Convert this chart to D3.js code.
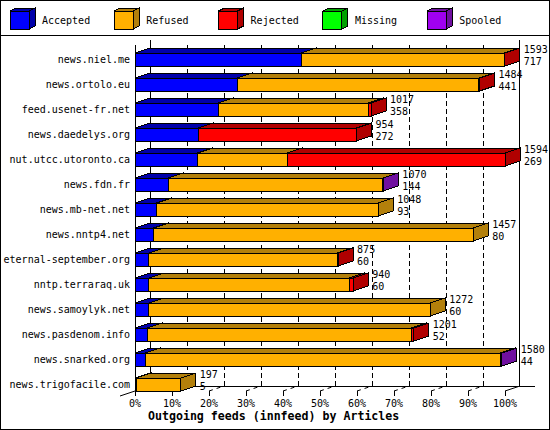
<!DOCTYPE html>
<html>
<head>
<meta charset="utf-8">
<script src="https://cdn.jsdelivr.net/npm/d3@7"></script>
<style>
  body { margin: 0; background: #fff; }
  text { font-family: "DejaVu Sans Mono", monospace; font-size: 10px; fill: #000; }
  .title { font-weight: bold; font-size: 11.6px; }
</style>
</head>
<body>
<div id="chart"></div>
<script>
const feeds = ["news.niel.me", "news.ortolo.eu", "feed.usenet-fr.net", "news.daedelys.org",
  "nut.utcc.utoronto.ca", "news.fdn.fr", "news.mb-net.net", "news.nntp4.net",
  "eternal-september.org", "nntp.terraraq.uk", "news.samoylyk.net", "news.pasdenom.info",
  "news.snarked.org", "news.trigofacile.com"];

const accepted = [717, 441, 358, 272, 269, 144, 93, 80, 60, 60, 60, 52, 44, 5];
const refused  = [874, 1040, 647, 0, 387, 923, 955, 1377, 812, 863, 1212, 1139, 1531, 192];
const rejected = [2, 3, 12, 682, 938, 0, 0, 0, 3, 17, 0, 10, 0, 0];
const missing  = [0, 0, 0, 0, 0, 0, 0, 0, 0, 0, 0, 0, 0, 0];
const spooled  = [0, 0, 0, 0, 0, 3, 0, 0, 0, 0, 0, 0, 5, 0];

const seriesNames = ["Accepted", "Refused", "Rejected", "Missing", "Spooled"];
const percentTicks = [0, 10, 20, 30, 40, 50, 60, 70, 80, 90, 100];

const colors = {
  Accepted: ["#0000ff", "#0000aa"],
  Refused:  ["#ffb000", "#b3800b"],
  Rejected: ["#ff0000", "#b00000"],
  Missing:  ["#00ff00", "#00a000"],
  Spooled:  ["#a000f0", "#7010a0"]
};

const svgWidth = 550;
const svgHeight = 430;
const depthX = 15;
const depthY = 5;
const barHeight = 13;

const svg = d3.select("#chart")
  .append("svg")
  .attr("width", svgWidth)
  .attr("height", svgHeight)
  .attr("shape-rendering", "crispEdges");

// frame and legend separator
svg.append("rect")
  .attr("x", 0.5).attr("y", 0.5)
  .attr("width", svgWidth - 1).attr("height", svgHeight - 1)
  .attr("fill", "#fff").attr("stroke", "#000");
svg.append("line")
  .attr("x1", 0).attr("x2", svgWidth)
  .attr("y1", 35.5).attr("y2", 35.5)
  .attr("stroke", "#000");

// legend
const legend = svg.append("g");
seriesNames.forEach(function(name, i) {
  const lx = 10 + i * 104.3;
  const g = legend.append("g").attr("transform", `translate(${lx}, 0)`);
  const w = 19, h = 18, top = 11, dx = 6, dy = 3;
  g.append("polygon")
    .attr("points", `0,${top} ${dx},${top - dy} ${w + dx},${top - dy} ${w},${top}`)
    .attr("fill", colors[name][1]).attr("stroke", "#000");
  g.append("polygon")
    .attr("points", `${w},${top} ${w + dx},${top - dy} ${w + dx},${top + h - dy} ${w},${top + h}`)
    .attr("fill", colors[name][1]).attr("stroke", "#000");
  g.append("rect")
    .attr("x", 0).attr("y", top).attr("width", w).attr("height", h)
    .attr("fill", colors[name][0]).attr("stroke", "#000");
  g.append("text")
    .attr("x", 32).attr("y", 24)
    .text(name);
});

const rows = feeds.map(function(f, i) {
  return {
    feed: f,
    values: [accepted[i], refused[i], rejected[i], missing[i], spooled[i]],
    total: accepted[i] + refused[i] + rejected[i] + missing[i] + spooled[i],
    accepted: accepted[i]
  };
});
const maxTotal = d3.max(rows, d => d.total);

const x = d3.scaleLinear().domain([0, 100]).range([135, 505]);
const y = d3.scaleBand().domain(feeds).range([45, 395]);
const pct = v => x(v / maxTotal * 100);

const floorY = 391;

// back walls and gridlines
const grid = svg.append("g").attr("stroke", "#000");
grid.append("line")
  .attr("x1", x(0) + depthX + 0.5).attr("x2", x(0) + depthX + 0.5)
  .attr("y1", 40).attr("y2", floorY - depthY);
grid.append("line")
  .attr("x1", x(100) + depthX - 0.5).attr("x2", x(100) + depthX - 0.5)
  .attr("y1", 40).attr("y2", floorY - depthY);
grid.selectAll(".gridline")
  .data(percentTicks.slice(1, -1))
  .enter()
  .append("line")
  .attr("class", "gridline")
  .attr("x1", d => Math.round(x(d) + depthX) + 0.5)
  .attr("x2", d => Math.round(x(d) + depthX) + 0.5)
  .attr("y1", 45).attr("y2", floorY - depthY)
  .attr("stroke-dasharray", "5,3");

// floor
grid.append("line")
  .attr("x1", x(0) + depthX).attr("x2", x(100) + 2 * depthX)
  .attr("y1", floorY - depthY + 0.5).attr("y2", floorY - depthY + 0.5);
grid.append("line")
  .attr("x1", x(0) - depthX).attr("x2", x(0))
  .attr("y1", floorY + depthY).attr("y2", floorY)
  .attr("shape-rendering", "auto");
grid.append("line")
  .attr("x1", x(0) + 0.5).attr("x2", x(0) + 0.5)
  .attr("y1", 45).attr("y2", floorY);

// x ticks
const ticks = svg.append("g").attr("stroke", "#000");
ticks.selectAll(".diag")
  .data(percentTicks)
  .enter()
  .append("line")
  .attr("x1", d => x(d)).attr("y1", floorY)
  .attr("x2", d => x(d) + depthX).attr("y2", floorY - depthY)
  .attr("stroke-dasharray", d => d === 100 ? null : "4,4")
  .attr("shape-rendering", "auto");
ticks.selectAll(".tick")
  .data(percentTicks)
  .enter()
  .append("line")
  .attr("x1", d => Math.round(x(d)) + 0.5).attr("x2", d => Math.round(x(d)) + 0.5)
  .attr("y1", floorY).attr("y2", floorY + 5);

svg.append("g").selectAll("text")
  .data(percentTicks)
  .enter()
  .append("text")
  .attr("x", d => x(d))
  .attr("y", 407)
  .attr("text-anchor", "middle")
  .text(d => d + "%");

svg.append("text")
  .attr("class", "title")
  .attr("x", 148)
  .attr("y", 420)
  .text("Outgoing feeds (innfeed) by Articles");

// 3d stacked bars
const bars = svg.append("g");
rows.forEach(function(row) {
  const top = y(row.feed) + 8;
  let cum = 0;
  row.values.forEach(function(v, k) {
    if (v <= 0) return;
    const x0 = pct(cum);
    cum += v;
    const x1 = pct(cum);
    const c = colors[seriesNames[k]];
    bars.append("polygon")
      .attr("points", `${x0},${top} ${x0 + depthX},${top - depthY} ${x1 + depthX},${top - depthY} ${x1},${top}`)
      .attr("fill", c[1]).attr("stroke", "#000");
    bars.append("polygon")
      .attr("points", `${x1},${top} ${x1 + depthX},${top - depthY} ${x1 + depthX},${top + barHeight - depthY} ${x1},${top + barHeight}`)
      .attr("fill", c[1]).attr("stroke", "#000");
    bars.append("rect")
      .attr("x", x0).attr("y", top)
      .attr("width", x1 - x0).attr("height", barHeight)
      .attr("fill", c[0]).attr("stroke", "#000");
  });

  const labelX = pct(row.total) + depthX + 4;
  bars.append("text")
    .attr("x", labelX).attr("y", top)
    .text(row.total);
  bars.append("text")
    .attr("x", labelX).attr("y", top + 12)
    .text(row.accepted);
});

// feed names
svg.append("g").selectAll("text")
  .data(feeds)
  .enter()
  .append("text")
  .attr("x", 130)
  .attr("y", d => y(d) + 8 + 10)
  .attr("text-anchor", "end")
  .text(d => d);
</script>
</body>
</html>
